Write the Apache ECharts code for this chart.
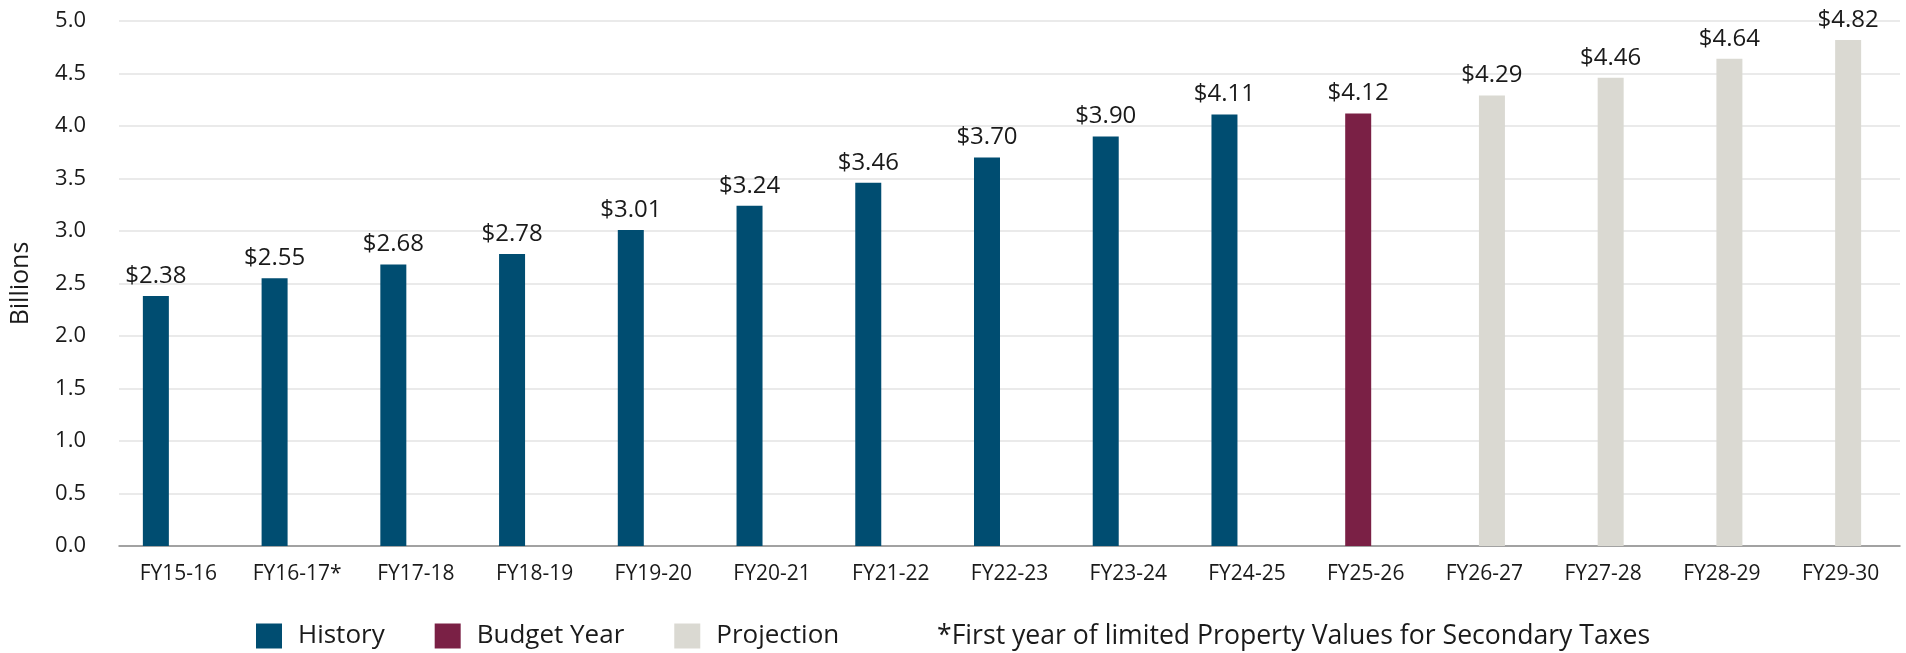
<!DOCTYPE html>
<html>
<head>
<meta charset="utf-8">
<script src="https://cdn.jsdelivr.net/npm/echarts@6/dist/echarts.min.js"></script>
<style>
html,body{margin:0;padding:0;background:#fff;}
#chart{width:1906px;height:653px;}
</style>
</head>
<body>
<div id="chart"></div>
<script>
const categories = ['FY15-16','FY16-17*','FY17-18','FY18-19','FY19-20','FY20-21','FY21-22','FY22-23','FY23-24','FY24-25','FY25-26','FY26-27','FY27-28','FY28-29','FY29-30'];
const history    = [2.38, 2.55, 2.68, 2.78, 3.01, 3.24, 3.46, 3.70, 3.90, 4.11, null, null, null, null, null];
const budgetYear = [null, null, null, null, null, null, null, null, null, null, 4.12, null, null, null, null];
const projection = [null, null, null, null, null, null, null, null, null, null, null, 4.29, 4.46, 4.64, 4.82];
const footnoteSeries = [null, null, null, null, null, null, null, null, null, null, null, null, null, null, null];
const footnoteText = '*First year of limited Property Values for Secondary Taxes';
const yTicks = { min: 0, max: 5, interval: 0.5 };

const FONT = '"Open Sans", sans-serif';
const chart = echarts.init(document.getElementById('chart'), null, {renderer:'canvas'});

const labelCfg = {
  show: true, position: 'top', distance: 8,
  fontFamily: FONT, fontSize: 24, color: '#1a1a1a',
  formatter: p => (p.value == null ? '' : '$' + Number(p.value).toFixed(2))
};

function barSeries(name, data, color) {
  return {
    name, type: 'bar', data, barWidth: 26, barGap: '-42.3%',
    itemStyle: { color }, label: labelCfg, emphasis: { disabled: true }
  };
}

chart.setOption({
  animation: false,
  textStyle: { fontFamily: FONT },
  grid: { left: 116, right: 6, top: 21, bottom: 107, containLabel: false },
  legend: {
    data: ['History', 'Budget Year', 'Projection'],
    left: 256, top: 623, padding: 0,
    icon: 'rect', itemWidth: 26, itemHeight: 25, itemGap: 50,
    textStyle: { fontFamily: FONT, fontSize: 26, lineHeight: 25, color: '#1a1a1a', padding: [0, 0, 0, 11] }
  },
  graphic: [{
    type: 'text', x: 937, y: 636,
    style: { text: footnoteText, font: '26.6px ' + FONT, fill: '#1a1a1a', verticalAlign: 'middle', align: 'left' }
  }],
  xAxis: {
    type: 'category', data: categories,
    axisLine: { lineStyle: { color: '#8a8a8a', width: 1.5 } },
    axisTick: { show: false },
    axisLabel: { fontFamily: FONT, fontSize: 21, color: '#1a1a1a', margin: 18, interval: 0 }
  },
  yAxis: {
    type: 'value', min: yTicks.min, max: yTicks.max, interval: yTicks.interval,
    name: 'Billions', nameLocation: 'middle', nameGap: 86, nameRotate: 90,
    nameTextStyle: { fontFamily: FONT, fontSize: 25, color: '#1a1a1a' },
    axisLabel: { fontFamily: FONT, fontSize: 22, color: '#1a1a1a', margin: 33, formatter: v => v.toFixed(1) },
    axisLine: { show: false }, axisTick: { show: false },
    splitLine: { lineStyle: { color: '#e3e3e3', width: 1.5 } }
  },
  series: [
    barSeries('History', history, '#004d71'),
    barSeries('Budget Year', budgetYear, '#7a2045'),
    barSeries('Projection', projection, '#dad9d2'),
    barSeries('footnote', footnoteSeries, 'rgba(0,0,0,0)')
  ]
});
</script>
</body>
</html>
